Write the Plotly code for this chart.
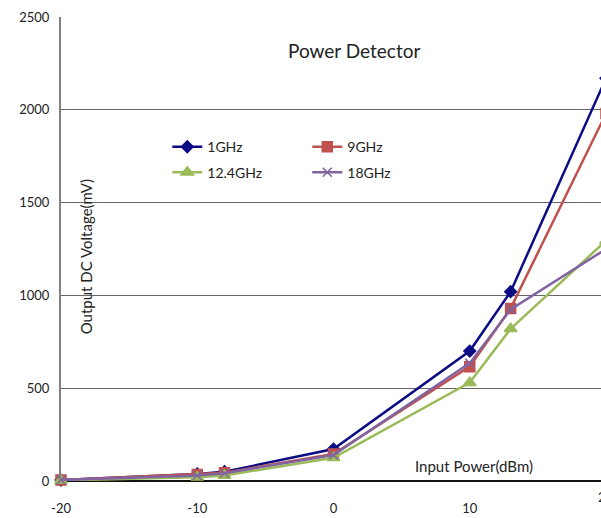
import plotly.graph_objects as go

x_dbm = [-20, -10, -8, 0, 10, 13, 20]
v_1ghz = [5, 38, 50, 172, 700, 1020, 2170]
v_9ghz = [5, 35, 45, 145, 616, 930, 1980]
v_12ghz = [3, 20, 30, 125, 530, 820, 1295]
v_18ghz = [5, 30, 42, 140, 635, 925, 1250]
names = ["1GHz", "9GHz", "12.4GHz", "18GHz"]
y_ticks = [0, 500, 1000, 1500, 2000, 2500]
x_ticks = [-20, -10, 0, 10, 20]

FONT = "Lato"
series = [
    (names[0], v_1ghz, "#0b0b84", "diamond", 9, "legend"),
    (names[1], v_9ghz, "#c0504d", "square", 10, "legend"),
    (names[2], v_12ghz, "#9bbb59", "triangle-up", 11, "legend2"),
    (names[3], v_18ghz, "#8064a2", "x-thin", 9, "legend2"),
]

fig = go.Figure()
for name, vals, col, sym, size, leg in series:
    fig.add_trace(go.Scatter(
        x=x_dbm, y=vals, name=name, mode="lines+markers",
        line=dict(color=col, width=2.5),
        marker=dict(symbol=sym, size=size, color=col, line=dict(color=col, width=1.5)),
        cliponaxis=False, legend=leg,
    ))

fig.update_layout(
    width=606, height=518,
    margin=dict(l=61, r=0, t=17, b=37, autoexpand=False),
    paper_bgcolor="white", plot_bgcolor="white",
    font=dict(family=FONT, size=13, color="#222"),
    showlegend=True,
    legend=dict(orientation="h", x=0.195, y=0.754, xanchor="left", yanchor="top",
                entrywidth=95, font=dict(size=14, family=FONT), bgcolor="rgba(0,0,0,0)"),
    legend2=dict(orientation="h", x=0.195, y=0.699, xanchor="left", yanchor="top",
                 entrywidth=95, font=dict(size=14, family=FONT), bgcolor="rgba(0,0,0,0)"),
    xaxis=dict(range=[-20, 20], tickvals=x_ticks, ticktext=[str(t) for t in x_ticks],
               showgrid=False, zeroline=False, showline=False, ticks="", automargin=False,
               tickfont=dict(size=13, family=FONT, color="#222"), ticklabelstandoff=18),
    yaxis=dict(range=[0, 2500], tickvals=y_ticks, ticktext=[str(t) for t in y_ticks],
               showgrid=True, gridcolor="#666", gridwidth=1, zeroline=True,
               zerolinecolor="#111", zerolinewidth=1.5, automargin=False,
               showline=True, linecolor="#808080", linewidth=2, ticks="",
               tickfont=dict(size=13, family=FONT, color="#222"), ticklabelstandoff=7),
)
anns = [
    dict(text="Power Detector", xref="x", yref="y", x=1.5, y=2320, showarrow=False,
         font=dict(size=19, family=FONT, color="#222")),
    dict(text="Output DC Voltage(mV)", xref="x", yref="y", x=-18.1, y=1210, textangle=-90,
         showarrow=False, font=dict(size=15, family=FONT, color="#222")),
    dict(text="Input Power(dBm)", xref="x", yref="y", x=10.3, y=81, showarrow=False,
         font=dict(size=15, family=FONT, color="#222")),
    dict(text="20", xref="x", yref="paper", x=20, y=0, yshift=-26, showarrow=False,
         font=dict(size=13, family=FONT, color="#222")),
]
fig.update_layout(annotations=anns)
fig.write_html("out.html", config={"displayModeBar": False},
               post_script="document.body.style.margin='0';"
                           "document.body.style.overflow='hidden';"
                           "document.documentElement.style.overflow='hidden';")
